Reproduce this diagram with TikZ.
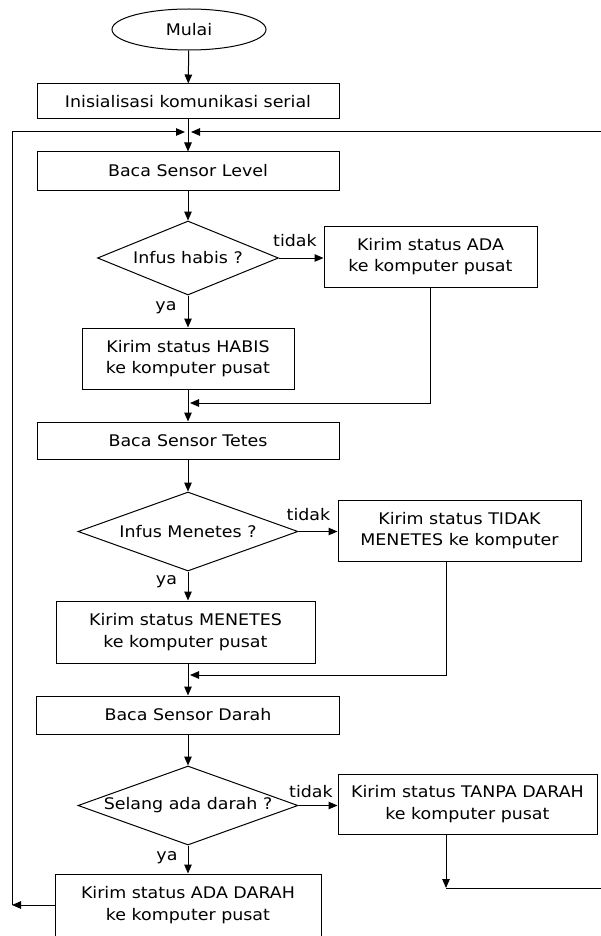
\documentclass[tikz,border=0pt]{standalone}
\usepackage{fontspec}
\setmainfont{DejaVu Sans}[FakeStretch=1.09]
\usepackage{tikz}
\usetikzlibrary{arrows.meta,shapes.geometric}
\tikzstyle{fc_t} = [ellipse, draw=black, line width=1pt, inner sep=0pt, minimum width=154, minimum height=41]
\tikzstyle{fc_p} = [rectangle, draw=black, line width=1pt, align=center, inner sep=0pt]
\tikzstyle{fc_d} = [diamond, draw=black, line width=1pt, align=center, inner sep=0pt, aspect=2.8]
\tikzstyle{fc_l} = [inner sep=0pt]

\begin{document}
\begin{tikzpicture}[x=1pt,y=-1pt,->,>={Triangle[length=9pt,width=7.5pt]},line width=1pt,
every node/.style={font=\fontsize{16}{21.5}\selectfont}]
\useasboundingbox (0,0) rectangle (601,936);
\clip (0,0) rectangle (601,936);

\node [fc_t] (mulai) at (189,29.5) {Mulai};
\node [fc_p, minimum width=302, minimum height=35] (init) at (188,101.5) {Inisialisasi komunikasi serial};
\coordinate (merge) at (188,132);
\node [fc_p, minimum width=302, minimum height=38] (level) at (188,171) {Baca Sensor Level};
\node [fc_d, minimum width=181, minimum height=74, aspect=2.45] (habis) at (188,258) {Infus habis ?};
\node [fc_p, minimum width=213, minimum height=61] (ada) at (430.5,256.5) {Kirim status ADA\\ke komputer pusat};
\node [fc_p, minimum width=212, minimum height=61] (shabis) at (188,358.5) {Kirim status HABIS\\ke komputer pusat};
\coordinate (join1) at (188,403);
\node [fc_p, minimum width=302, minimum height=37] (tetes) at (188,440.5) {Baca Sensor Tetes};
\node [fc_d, minimum width=220, minimum height=79] (menetes) at (188,531.5) {Infus Menetes ?};
\node [fc_p, minimum width=243, minimum height=61] (tidak) at (459.5,530.5) {Kirim status TIDAK\\MENETES ke komputer};
\node [fc_p, minimum width=259, minimum height=62] (smenetes) at (185.5,632) {Kirim status MENETES\\ke komputer pusat};
\coordinate (join2) at (188,675);
\node [fc_p, minimum width=303, minimum height=38] (darah) at (188,715) {Baca Sensor Darah};
\node [fc_d, minimum width=220, minimum height=79] (selang) at (188,805.5) {Selang ada darah ?};
\node [fc_p, minimum width=259, minimum height=60] (tanpa) at (467.5,804) {Kirim status TANPA DARAH\\ke komputer pusat};
\node [fc_p, minimum width=266, minimum height=62] (adadarah) at (188,905) {Kirim status ADA DARAH\\ke komputer pusat};

% labels
\node [fc_l] (t1) at (295,241) {tidak};
\node [fc_l] (y1) at (166,308) {ya};
\node [fc_l] (t2) at (308.5,515) {tidak};
\node [fc_l] (y2) at (166.5,582) {ya};
\node [fc_l] (t3) at (311,792) {tidak};
\node [fc_l] (y3) at (167,858) {ya};

\coordinate (rbot) at (446,888);
\coordinate (redge) at (606,888);
\coordinate (lbot) at (12,905);

\draw (mulai) -- (init);
\draw [-] (init) -- (merge);
\draw (merge) -- (level);
\draw (level) -- (habis);
\draw (habis.east) -- (habis.east -| ada.west);
\draw (habis) -- (shabis);
\draw (ada.south) |- ([xshift=2pt]join1);
\draw (shabis) -- (tetes);
\draw (tetes) -- (menetes);
\draw (menetes.east) -- (menetes.east -| tidak.west);
\draw (menetes.south) -- (menetes.south |- smenetes.north);
\draw ([xshift=-13.5pt]tidak.south) |- ([xshift=2pt]join2);
\draw (smenetes.south -| darah.north) -- (darah.north);
\draw (darah) -- (selang);
\draw (selang.east) -- (selang.east -| tanpa.west);
\draw (selang) -- (adadarah);
\draw (tanpa.south -| rbot) -- (rbot);
\draw (rbot) -- (redge) |- ([xshift=3pt]merge);
\draw (adadarah) -- (lbot);
\draw (lbot) |- ([xshift=-3pt]merge);
\end{tikzpicture}
\end{document}
